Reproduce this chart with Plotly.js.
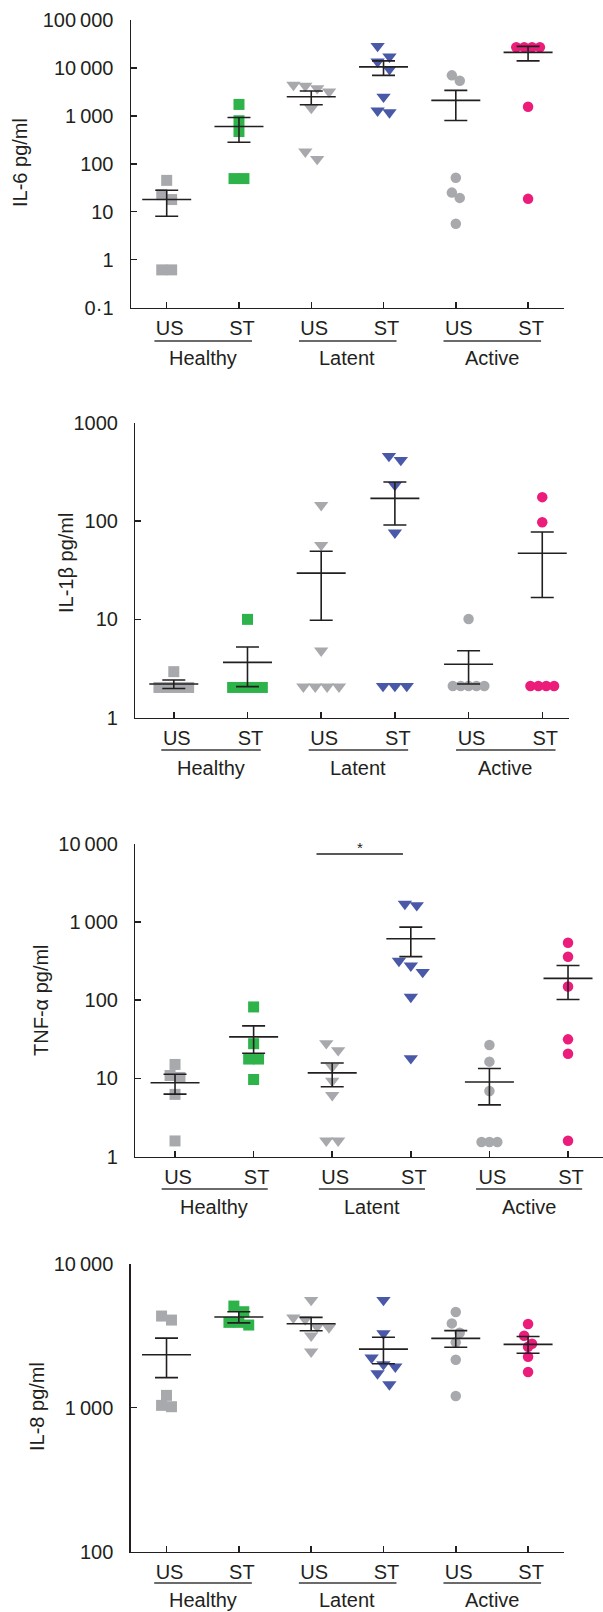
<!DOCTYPE html>
<html><head><meta charset="utf-8">
<script src="https://cdn.plot.ly/plotly-3.0.1.min.js"></script>
<style>html,body{margin:0;padding:0;background:#fff}</style>
</head><body><div id="chart" style="width:603px;height:1612px"></div>
<script>
// ---------------- DATA ----------------
const categories = ["US", "ST", "US", "ST", "US", "ST"];
const groups = ["Healthy", "Latent", "Active"];

// IL-6 (pg/ml)
const il6_healthyUS = [45, 22.7, 17.9, 0.61, 0.61];
const il6_healthyST = [1730, 790, 470, 49, 49];
const il6_latentUS  = [4400, 4200, 3750, 3200, 1450, 178, 125];
const il6_latentST  = [28600, 17200, 13500, 9400, 2500, 1280, 1180];
const il6_activeUS  = [7000, 5400, 51, 25, 19.4, 5.6];
const il6_activeST  = [27000, 27000, 27000, 27000, 1550, 18.5];
const il6_mean = [18, 600, 2500, 10500, 2100, 21100];
const il6_sem  = [10, 320, 800, 3500, 1300, 7100];
const il6_tickvals = [0.1, 1, 10, 100, 1000, 10000, 100000];
const il6_ticktext = ["0\u00b71", "1", "10", "100", "1\u2009000", "10\u2009000", "100\u2009000"];

// IL-1beta (pg/ml)
const il1b_healthyUS = [2.94, 2.03, 2.03, 2.03, 2.03];
const il1b_healthyST = [10, 2.03, 2.03, 2.03, 2.03];
const il1b_latentUS  = [145, 57, 4.8, 2.07, 2.07, 2.07, 2.07];
const il1b_latentST  = [458, 417, 232, 76, 2.1, 2.1, 2.1];
const il1b_activeUS  = [10.1, 2.1, 2.1, 2.1, 2.1, 2.1];
const il1b_activeST  = [175, 97, 2.1, 2.1, 2.1, 2.1];
const il1b_mean = [2.2, 3.65, 29.5, 170, 3.5, 47];
const il1b_sem  = [0.22, 1.58, 19.7, 79, 1.3, 30.3];
const il1b_tickvals = [1, 10, 100, 1000];
const il1b_ticktext = ["1", "10", "100", "1000"];

// TNF-alpha (pg/ml)
const tnf_healthyUS = [15.1, 10.9, 10.3, 6.26, 1.59];
const tnf_healthyST = [82, 27.8, 17.7, 17.7, 9.7];
const tnf_latentUS  = [28.1, 22.9, 14.1, 9.3, 6.1, 1.6, 1.6];
const tnf_latentST  = [1700, 1630, 317, 276, 229, 110, 18.1];
const tnf_activeUS  = [26.8, 16.4, 6.9, 1.54, 1.54, 1.54];
const tnf_activeST  = [543, 360, 150, 31.6, 20.7, 1.6];
const tnf_mean = [8.8, 34, 11.8, 610, 9, 190];
const tnf_sem  = [2.5, 13, 3.95, 250, 4.4, 88];
const tnf_tickvals = [1, 10, 100, 1000, 10000];
const tnf_ticktext = ["1", "10", "100", "1\u2009000", "10\u2009000"];
const tnf_signif = {from: 2, to: 3, level: 7400, label: "*"};

// IL-8 (pg/ml)
const il8_healthyUS = [4330, 4060, 1218, 1016, 1038];
const il8_healthyST = [5080, 4640, 3914, 3914, 3750];
const il8_latentUS  = [5595, 4217, 4102, 3611, 3652, 3163, 2448];
const il8_latentST  = [5595, 3282, 2224, 2000, 1926, 1730, 1452];
const il8_activeUS  = [4616, 3851, 3318, 2843, 2153, 1205];
const il8_activeST  = [3811, 3163, 2652, 2782, 2260, 1770];
const il8_mean = [2330, 4263, 3830, 2550, 3028, 2754];
const il8_sem  = [712, 380, 410, 532, 400, 365];
const il8_tickvals = [100, 1000, 10000];
const il8_ticktext = ["100", "1\u2009000", "10\u2009000"];

// ---------------- STYLE / LAYOUT ----------------
const W = 603, H = 1612;
const FONT = "Liberation Sans, Arial, Helvetica, sans-serif";
const INK = "#231f20";
const colors  = ["#a7a9ac", "#2db34a", "#a7a9ac", "#4a58a8", "#a7a9ac", "#ec1c7b"];
const symbols = ["square", "square", "triangle-down", "triangle-down", "circle", "circle"];
const sizes   = [11, 11, 12.5, 12.5, 10.5, 10.5];
const steps   = [0.9, 0.9, 0.95, 0.95, 0.75, 0.75];

const panels = [
  {title: "IL-6 pg/ml", sets: [il6_healthyUS, il6_healthyST, il6_latentUS, il6_latentST, il6_activeUS, il6_activeST],
   mean: il6_mean, sem: il6_sem, tv: il6_tickvals, tt: il6_ticktext,
   box: {l: 131, r: 563.5, t: 20, b: 307.5}, xr: [-0.494, 5.49], yr: [-1, 5],
   tx: 20, ty: 163, lineY: 341, groupY: 358},
  {title: "IL-1\u03b2 pg/ml", sets: [il1b_healthyUS, il1b_healthyST, il1b_latentUS, il1b_latentST, il1b_activeUS, il1b_activeST],
   mean: il1b_mean, sem: il1b_sem, tv: il1b_tickvals, tt: il1b_ticktext,
   box: {l: 135.4, r: 568.5, t: 422.7, b: 717.7}, xr: [-0.521, 5.356], yr: [0, 3],
   tx: 66, ty: 563, lineY: 750, groupY: 768},
  {title: "TNF-\u03b1 pg/ml", sets: [tnf_healthyUS, tnf_healthyST, tnf_latentUS, tnf_latentST, tnf_activeUS, tnf_activeST],
   mean: tnf_mean, sem: tnf_sem, tv: tnf_tickvals, tt: tnf_ticktext, signif: tnf_signif,
   box: {l: 135.4, r: 603, t: 843.7, b: 1156.7}, xr: [-0.504, 5.445], yr: [0, 4],
   tx: 41, ty: 1000, lineY: 1189, groupY: 1207},
  {title: "IL-8 pg/ml", sets: [il8_healthyUS, il8_healthyST, il8_latentUS, il8_latentST, il8_activeUS, il8_activeST],
   mean: il8_mean, sem: il8_sem, tv: il8_tickvals, tt: il8_ticktext,
   box: {l: 130.8, r: 563.5, t: 1263.7, b: 1551.7}, xr: [-0.494, 5.49], yr: [2, 4],
   tx: 37, ty: 1407, lineY: 1583, groupY: 1600}
];

// symmetric row-swarm offsets (in x data units) so overlapping points sit side by side
function swarm(vals, p, size, stepFactor) {
  const hPx = p.box.b - p.box.t, wPx = p.box.r - p.box.l;
  const pyPerDec = hPx / (p.yr[1] - p.yr[0]);
  const pxPerUnit = wPx / (p.xr[1] - p.xr[0]);
  const py = vals.map(v => -Math.log10(v) * pyPerDec);
  const order = vals.map((v, i) => i).sort((a, b) => py[a] - py[b]);
  const off = new Array(vals.length).fill(0);
  const thresh = size * 0.9, step = size * stepFactor;
  let i = 0;
  while (i < order.length) {
    let j = i;
    while (j + 1 < order.length && py[order[j + 1]] - py[order[i]] < thresh) j++;
    const n = j - i + 1;
    for (let k = 0; k < n; k++) off[order[i + k]] = (k - (n - 1) / 2) * step / pxPerUnit;
    i = j + 1;
  }
  return off;
}

const traces = [], shapes = [], annotations = [];
const layout = {
  width: W, height: H, margin: {l: 0, r: 0, t: 0, b: 0},
  paper_bgcolor: "#fff", plot_bgcolor: "rgba(0,0,0,0)", showlegend: false,
  font: {family: FONT, size: 20, color: INK}
};

panels.forEach((p, pi) => {
  const n = pi + 1, xa = "x" + n, ya = "y" + n;
  const xk = n === 1 ? "xaxis" : "xaxis" + n, yk = n === 1 ? "yaxis" : "yaxis" + n;
  layout[xk] = {
    domain: [p.box.l / W, p.box.r / W], range: p.xr, anchor: ya,
    showline: true, linewidth: 1.5, linecolor: INK, showgrid: false, zeroline: false,
    ticks: "inside", ticklen: 6, tickwidth: 1.5, tickcolor: INK,
    tickvals: categories.map((c, i) => i), ticktext: categories,
    tickfont: {family: FONT, size: 20, color: INK}, ticklabelstandoff: 2, ticklabelshift: 3,
    fixedrange: true
  };
  layout[yk] = {
    domain: [1 - p.box.b / H, 1 - p.box.t / H], type: "log", range: p.yr, anchor: xa,
    showline: true, linewidth: 1.5, linecolor: INK, showgrid: false, zeroline: false,
    ticks: "inside", ticklen: 6, tickwidth: 1.5, tickcolor: INK,
    tickvals: p.tv, ticktext: p.tt,
    tickfont: {family: FONT, size: 20, color: INK}, ticklabelstandoff: 12,
    fixedrange: true
  };
  // points
  p.sets.forEach((vals, c) => {
    const off = swarm(vals, p, sizes[c], steps[c]);
    traces.push({
      type: "scatter", mode: "markers", xaxis: xa, yaxis: ya, cliponaxis: false,
      x: vals.map((v, i) => c + off[i]), y: vals,
      marker: {symbol: symbols[c], color: colors[c], size: sizes[c], line: {width: 0}},
      hoverinfo: "y"
    });
  });
  // mean +/- SEM
  traces.push({
    type: "scatter", mode: "markers", xaxis: xa, yaxis: ya, cliponaxis: false,
    x: p.mean.map((m, i) => i), y: p.mean,
    marker: {symbol: "line-ew", size: 35, color: INK, line: {width: 1.6, color: INK}},
    error_y: {type: "data", array: p.sem, symmetric: true, visible: true, width: 11.5, thickness: 1.6, color: INK},
    hoverinfo: "y"
  });
  // significance bracket
  if (p.signif) {
    const s = p.signif;
    traces.push({
      type: "scatter", mode: "lines", xaxis: xa, yaxis: ya, cliponaxis: false,
      x: [s.from - 0.2, s.to - 0.1], y: [s.level, s.level],
      line: {color: INK, width: 1.4}, hoverinfo: "skip"
    });
    annotations.push({
      xref: xa, yref: ya, x: (s.from + s.to) / 2 - 0.15, y: Math.log10(s.level),
      text: s.label, showarrow: false, yanchor: "bottom", yshift: -4,
      font: {family: FONT, size: 15, color: INK}
    });
  }
  // group underlines and labels
  groups.forEach((g, gi) => {
    const a = gi * 2, b = gi * 2 + 1;
    shapes.push({
      type: "line", xref: xa, yref: "paper", x0: a - 0.17, x1: b + 0.18,
      y0: 1 - p.lineY / H, y1: 1 - p.lineY / H, line: {color: "#3a3a3a", width: 1.5}
    });
    annotations.push({
      xref: xa, yref: "paper", x: (a + b) / 2, y: 1 - p.groupY / H,
      text: g, showarrow: false, xanchor: "center", yanchor: "middle",
      font: {family: FONT, size: 20, color: INK}
    });
  });
  // y-axis title
  annotations.push({
    xref: "paper", yref: "paper", x: p.tx / W, y: 1 - p.ty / H,
    text: p.title, textangle: -90, showarrow: false, xanchor: "center", yanchor: "middle",
    font: {family: FONT, size: 20, color: INK}
  });
});

layout.shapes = shapes;
layout.annotations = annotations;
Plotly.newPlot("chart", traces, layout, {staticPlot: true, displayModeBar: false});
</script>
</body></html>
